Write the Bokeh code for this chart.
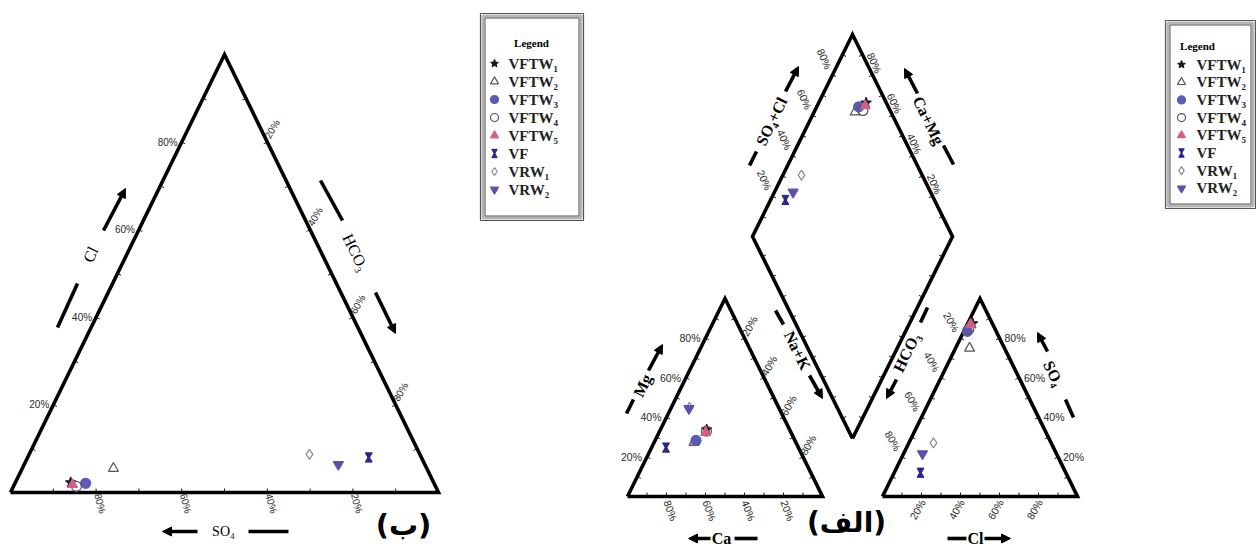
import math
from bokeh.plotting import figure
from bokeh.models import Range1d, Arrow, NormalHead
from bokeh.core.properties import value
from bokeh.embed import file_html
from bokeh.resources import INLINE

# ---------------- data ----------------
samples = ["VFTW1", "VFTW2", "VFTW3", "VFTW4", "VFTW5", "VF", "VRW1", "VRW2"]
legend_labels = ["VFTW\u2081", "VFTW\u2082", "VFTW\u2083", "VFTW\u2084", "VFTW\u2085",
                 "VF", "VRW\u2081", "VRW\u2082"]

# left diagram (ب): anion ternary, percent
tern_so4 = [84.8, 73.2, 81.4, 83.9, 84.6, 12.3, 25.8, 20.2]
tern_cl = [2.3, 5.5, 2.1, 1.4, 1.8, 8.0, 8.7, 6.4]
tern_hco3 = [12.9, 21.3, 16.5, 14.7, 13.6, 79.7, 65.5, 73.4]

# Piper diagram (الف): cations, percent
pip_ca = [42.5, 52.2, 50.7, 43.0, 43.7, 67.9, 45.7, 46.3]
pip_mg = [33.8, 27.3, 28.3, 33.0, 32.3, 24.7, 45.0, 44.4]
pip_nak = [23.7, 20.5, 21.0, 24.0, 24.0, 7.4, 9.3, 9.3]
# anions, percent
pip_so4 = [87.4, 74.9, 83.4, 84.4, 87.0, 12.0, 27.1, 21.6]
pip_cl = [2.5, 7.2, 1.8, 2.0, 1.7, 13.5, 12.6, 9.7]
pip_hco3 = [10.1, 17.9, 14.8, 13.6, 11.3, 74.5, 60.3, 68.7]

tick_values = [20, 40, 60, 80]
tick_labels = ["20%", "40%", "60%", "80%"]

# ---------------- styles ----------------
MARK = ["star", "triangle", "circle", "circle", "triangle", "hourglass", "diamond", "inverted_triangle"]
FILL = ["#1a1a1a", None, "#5b5bb6", None, "#cf5f8a", "#26268c", None, "#5a52aa"]
LINE = ["#1a1a1a", "#555555", "#5b5bb6", "#555555", "#cf5f8a", "#26268c", "#8c8c8c", "#5a52aa"]
SIZE = [11, 10, 10, 10, 10, 7, 10, 10]
SERIF = "Liberation Serif"
SANS = "Liberation Sans"

W, H = 1256, 547
p = figure(width=W, height=H, output_backend="svg", toolbar_location=None,
           x_range=Range1d(0, W), y_range=Range1d(-H, 0), min_border=0)
p.axis.visible = False
p.grid.visible = False
p.outline_line_color = None
p.background_fill_color = "white"
p.border_fill_color = "white"

# geometry (page pixel coordinates, y downwards)
LT_L, LT_R, LT_T = (10, 492), (438, 492), (224, 54)
CT_L, CT_R, CT_T = (627, 496), (822, 496), (724.5, 298)
AT_L, AT_R, AT_T = (882, 496), (1077, 496), (979.5, 298)
DM_B, DM_L, DM_T, DM_R = (852, 438), (752, 236), (852, 34), (952, 236)


def outline(pts, width=3.6):
    xs = [q[0] for q in pts] + [pts[0][0]]
    ys = [-q[1] for q in pts] + [-pts[0][1]]
    p.line(xs, ys, line_width=width, line_color="black", line_join="miter")


def ticks(A, B, C, length=4):
    ex, ey = B[0] - A[0], B[1] - A[1]
    n = math.hypot(ex, ey)
    nx, ny = -ey / n, ex / n
    cx, cy = (A[0] + B[0] + C[0]) / 3, (A[1] + B[1] + C[1]) / 3
    mx, my = (A[0] + B[0]) / 2, (A[1] + B[1]) / 2
    if (cx - mx) * nx + (cy - my) * ny < 0:
        nx, ny = -nx, -ny
    x0, y0, x1, y1 = [], [], [], []
    for k in range(1, 10):
        t = k / 10
        px, py = A[0] + t * ex, A[1] + t * ey
        x0.append(px); y0.append(-py)
        x1.append(px + nx * length); y1.append(-(py + ny * length))
    p.segment(x0, y0, x1, y1, line_color="#222222", line_width=1)


def edge_labels(A, B, dx, dy, ang, align="center", size=9):
    xs, ys = [], []
    for v in tick_values:
        t = v / 100
        xs.append(A[0] + t * (B[0] - A[0]) + dx)
        ys.append(-(A[1] + t * (B[1] - A[1]) + dy))
    p.text(xs, ys, text=tick_labels, angle=math.radians(ang), text_align=align,
           text_baseline="middle", text_font=value(SANS),
           text_font_size=value(f"{size}px"), text_color="#2a2a2a")


def txt(x, y, s, ang=0, size=15, font=SERIF, style="normal", align="center", color="black"):
    p.text([x], [-y], text=[s], angle=math.radians(ang), text_align=align,
           text_baseline="middle", text_font=value(font), text_font_size=value(f"{size}px"),
           text_font_style=style, text_color=color)


def seg(x0, y0, x1, y1, w=3.6):
    p.segment([x0], [-y0], [x1], [-y1], line_width=w, line_color="black", line_cap="butt")


def arrow(x0, y0, x1, y1, w=3.6):
    p.add_layout(Arrow(end=NormalHead(size=9, line_color="black", fill_color="black", line_width=1),
                       x_start=x0, y_start=-y0, x_end=x1, y_end=-y1,
                       line_width=w, line_color="black"))


def bary(wa, A, wb, B, wc, C):
    s = wa + wb + wc
    return ((wa * A[0] + wb * B[0] + wc * C[0]) / s, (wa * A[1] + wb * B[1] + wc * C[1]) / s)


# ---------------- frames ----------------
for tri in [(LT_L, LT_R, LT_T), (CT_L, CT_R, CT_T), (AT_L, AT_R, AT_T)]:
    A, B, C = tri
    ticks(A, B, C); ticks(B, C, A); ticks(C, A, B)
    outline([A, B, C])
ticks(DM_L, DM_T, DM_R); ticks(DM_R, DM_T, DM_L); ticks(DM_B, DM_L, DM_R); ticks(DM_B, DM_R, DM_L)
outline([DM_B, DM_L, DM_T, DM_R])

# ---------------- tick labels ----------------
edge_labels(LT_L, LT_T, -4, 0, 0, align="right", size=10)       # Cl
edge_labels(LT_T, LT_R, 5, -13, 60, size=10)                   # HCO3
edge_labels(LT_R, LT_L, 4, 11, -75, size=10)                   # SO4
edge_labels(CT_L, CT_T, -5, 0, 0, align="right", size=10.5)    # Mg
edge_labels(CT_T, CT_R, 5, -12, 60, size=10.5)                 # Na+K
edge_labels(CT_R, CT_L, 4, 14, -70, size=10.5)                 # Ca
edge_labels(AT_T, AT_L, -9, -16, -60, size=10.5)               # HCO3
edge_labels(AT_L, AT_R, -4, 13, 60, size=10.5)                 # Cl
edge_labels(AT_R, AT_T, 5, 0, 0, align="left", size=10.5)      # SO4
edge_labels(DM_L, DM_T, -8, -16, -65, size=10.5)               # SO4+Cl
edge_labels(DM_R, DM_T, 2, -12, -65, size=10.5)                # Ca+Mg

# ---------------- axis titles and arrows ----------------
seg(57, 327, 77, 283); txt(90, 254, "Cl", 64, 16); arrow(103, 230, 125, 188)
seg(320, 180, 342, 220); txt(355, 252, "HCO\u2083", -64, 16); arrow(375, 292, 395, 333)
arrow(197, 531, 162, 531); txt(223, 531, "SO\u2084", 0, 14); seg(248, 531, 288, 531)

seg(626, 413, 633, 399); txt(642, 385, "Mg", 64, 16, style="bold"); arrow(648, 370, 662, 344)
arrow(710, 538, 688, 538); txt(721, 538, "Ca", 0, 16, style="bold"); seg(734, 538, 757, 538)
seg(775, 310, 783, 324); txt(797, 350, "Na+K", -64, 16, style="bold"); arrow(809, 375, 822, 398)
seg(749, 165, 756, 151); txt(771, 121, "SO\u2084+Cl", 64, 16, style="bold"); arrow(785, 91, 798, 66)
arrow(917, 93, 904, 68); txt(928, 120, "Ca+Mg", -64, 16, style="bold"); seg(943, 145, 953, 164)
seg(927, 307, 920, 322); txt(906, 352, "HCO\u2083", 64, 16, style="bold"); arrow(896, 379, 886, 398)
arrow(1047, 351, 1037, 332); txt(1053, 373, "SO\u2084", -64, 16, style="bold"); seg(1065, 399, 1073, 417)
seg(947, 538, 966, 538); txt(975, 538, "Cl", 0, 16, style="bold"); arrow(984, 538, 1010, 538)

txt(403, 524, "(\u0628)", 0, 29, font="DejaVu Sans", style="bold")
txt(846, 522, "(\u0627\u0644\u0641)", 0, 28, font="DejaVu Sans", style="bold")

# ---------------- points ----------------
left_pts = [bary(s, LT_L, h, LT_R, c, LT_T) for s, c, h in zip(tern_so4, tern_cl, tern_hco3)]
cat_pts = [bary(ca, CT_L, nk, CT_R, mg, CT_T) for ca, mg, nk in zip(pip_ca, pip_mg, pip_nak)]
an_pts = [bary(h, AT_L, c, AT_R, s, AT_T) for s, c, h in zip(pip_so4, pip_cl, pip_hco3)]
dia_pts = []
for ca, mg, s, c in zip(pip_ca, pip_mg, pip_so4, pip_cl):
    cm, sc = (ca + mg) / 100, (s + c) / 100
    dia_pts.append((DM_B[0] + cm * (DM_L[0] - DM_B[0]) + sc * (DM_R[0] - DM_B[0]),
                    DM_B[1] + cm * (DM_L[1] - DM_B[1]) + sc * (DM_R[1] - DM_B[1])))


def draw(i, xs, ys, size):
    ys = [-y for y in ys]
    if MARK[i] == "hourglass":
        p.scatter(xs, [y + 2.6 for y in ys], marker="inverted_triangle", size=size,
                  fill_color=FILL[i], line_color=LINE[i])
        p.scatter(xs, [y - 2.6 for y in ys], marker="triangle", size=size,
                  fill_color=FILL[i], line_color=LINE[i])
    else:
        p.scatter(xs, ys, marker=MARK[i], size=size, fill_color=FILL[i],
                  line_color=LINE[i], line_width=1.2)


for i in range(len(samples)):
    pts = [left_pts[i], cat_pts[i], an_pts[i], dia_pts[i]]
    draw(i, [q[0] for q in pts], [q[1] for q in pts], SIZE[i])


# ---------------- legends ----------------
def legend(x0, y0, x1, y1, title_x, title_y, mx, tx, ty0, step):
    p.quad(left=[x0], right=[x1], top=[-y0], bottom=[-y1], fill_color="white",
           line_color="#555555", line_width=1.2)
    p.quad(left=[x0 + 2.5], right=[x1 - 2.5], top=[-(y0 + 2.5)], bottom=[-(y1 - 2.5)],
           fill_color=None, line_color="#b5b5b5", line_width=3)
    p.quad(left=[x0 + 4.5], right=[x1 - 4.5], top=[-(y0 + 4.5)], bottom=[-(y1 - 4.5)],
           fill_color=None, line_color="#555555", line_width=1)
    txt(title_x, title_y, "Legend", 0, 11, style="bold")
    for i, lab in enumerate(legend_labels):
        y = ty0 + step * i
        draw(i, [mx], [y], 8 if MARK[i] != "hourglass" else 5.5)
        txt(tx, y, lab, 0, 15, style="bold", align="left", color="#222222")


legend(480, 13, 583, 220, 531, 42, 494, 508, 63, 18)
legend(1165, 20, 1255, 208, 1197, 45, 1181, 1196, 64, 17.7)

open("out.html", "w").write(file_html(p, INLINE))
